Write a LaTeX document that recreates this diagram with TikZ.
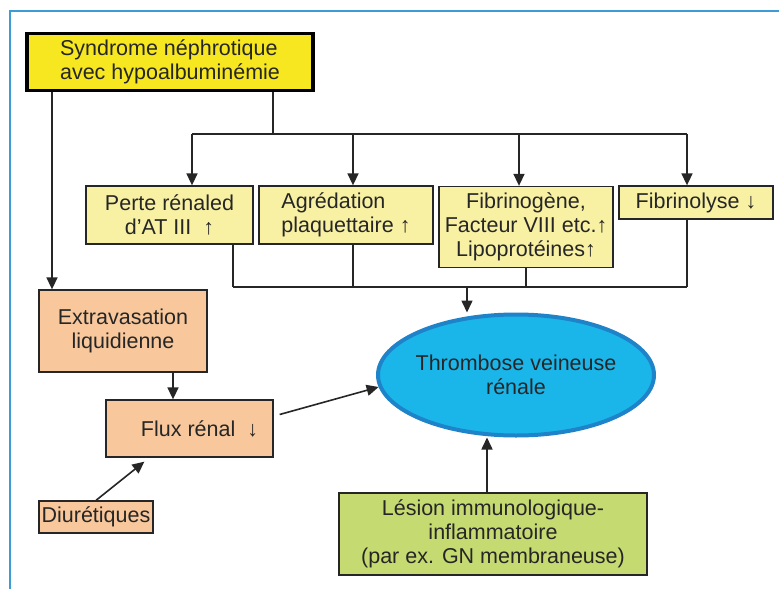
\documentclass[tikz,border=0pt]{standalone}
\usepackage{fontspec}
\setmainfont{Liberation Sans}
\usetikzlibrary{arrows.meta,shapes.geometric,calc}
\definecolor{frameblue}{RGB}{61,155,214}
\definecolor{synyellow}{RGB}{247,231,32}
\definecolor{paleyellow}{RGB}{248,241,164}
\definecolor{peach}{RGB}{248,200,156}
\definecolor{leafgreen}{RGB}{198,218,114}
\definecolor{skyfill}{RGB}{26,182,234}
\definecolor{skyedge}{RGB}{31,131,201}
\definecolor{inkgray}{RGB}{38,38,38}

\begin{document}
\begin{tikzpicture}[x=1pt, y=-1pt,
    every node/.style={font=\fontsize{21.5}{24}\selectfont, text=inkgray},
    box/.style={draw=inkgray, line width=1.3pt, inner sep=2pt},
    pale/.style={box, fill=paleyellow, align=center},
    peachbox/.style={box, fill=peach, align=center},
    link/.style={inkgray, line width=1.6pt},
    arr/.style={link, -{Triangle[length=12pt,width=11pt]}}]
    \useasboundingbox (0,0) rectangle (779,589);
    \draw[frameblue, line width=2pt] (10,589) -- (10,11) -- (779,11);

    \node[draw=black, line width=3.5pt, fill=synyellow, minimum width=286, minimum height=57, align=left] (synd) at (170,62) {Syndrome néphrotique\\avec hypoalbuminémie};
    \node[pale, minimum width=167, minimum height=58] (perte) at (169.5,215) {Perte rénaled\\d’AT III~~↑};
    \node[pale, minimum width=174, minimum height=58, align=left] (agreg) at (346,215) {Agrédation\\plaquettaire ↑};
    \node[pale, minimum width=174, minimum height=81] (fibg) at (526,227) {Fibrinogène,\\Facteur VIII etc.↑\\Lipoprotéines↑};
    \node[pale, minimum width=154, minimum height=33] (fibl) at (696,202.5) {Fibrinolyse ↓};
    \node[peachbox, minimum width=168, minimum height=82] (extra) at (123,331) {Extravasation\\liquidienne};
    \node[peachbox, minimum width=167, minimum height=57] (flux) at (189.5,428.5) {\hspace*{20pt}Flux rénal\ \ ↓};
    \node[peachbox, minimum width=114, minimum height=32, inner sep=1pt] (diur) at (96,517) {Diurétiques};
    \node[box, fill=leafgreen, minimum width=308, minimum height=82, align=center] (lesion) at (493,534) {Lésion immunologique-\\inflammatoire\\(par ex. GN membraneuse)};
    \node[ellipse, draw=skyedge, line width=4pt, fill=skyfill, inner sep=-3pt, minimum width=276, minimum height=121, align=center] (thromb) at (516,375) {Thrombose veineuse\\rénale};

    % fan out from the syndrome
    \coordinate (split) at (273,134);
    \draw[link] (synd.south -| split) -- (split);
    \foreach \nm/\xx in {perte/192, agreg/353, fibg/519, fibl/687}{
      \coordinate (in-\nm) at (\xx,134);
      \draw[arr] (in-\nm) -- (in-\nm |- \nm.north);
    }
    \draw[link] (in-perte) -- (in-fibl);

    % gather into the thrombosis
    \foreach \nm/\xx in {perte/233, agreg/353, fibg/526, fibl/687}{
      \coordinate (out-\nm) at (\xx,287);
      \draw[link] (out-\nm |- \nm.south) -- (out-\nm);
    }
    \draw[link] (out-perte) -- (out-fibl);
    \coordinate (join) at (467,287);
    \draw[arr] (join) -- (join |- thromb.north);

    \coordinate (down) at (52,0);
    \draw[arr] (synd.south -| down) -- (extra.north -| down);
    \coordinate (drop) at (173,0);
    \draw[arr] (extra.south -| drop) -- (flux.north -| drop);
    \draw[arr] ($(flux.east)+(6,-14)$) -- (thromb.185);
    \draw[arr] (diur.north) -- ($(flux.south west)+(39,4)$);
    \coordinate (rise) at (487,0);
    \draw[arr] (lesion.north -| rise) -- (thromb.south -| rise);
  \end{tikzpicture}
\end{document}
